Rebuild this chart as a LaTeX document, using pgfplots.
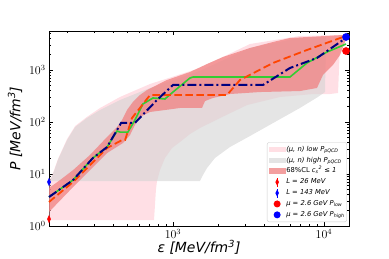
\documentclass[border=0pt]{standalone}
\usepackage{pgfplots}
\pgfplotsset{compat=1.18}
\usepackage{fontspec}
\newfontfamily\dv{DejaVu Sans}
\definecolor{pinkc}{RGB}{255,192,203}
\definecolor{grayc}{RGB}{211,211,211}
\definecolor{bandc}{RGB}{240,128,128}
\definecolor{orangered}{RGB}{255,69,0}
\definecolor{navyc}{RGB}{0,0,128}
\definecolor{limec}{RGB}{50,205,50}
\begin{document}
\begin{tikzpicture}
\useasboundingbox (-49bp,-33bp) rectangle (340bp,226bp);
\begin{axis}[
 scale only axis, width=300bp, height=195bp,
 xmode=log, ymode=log,
 xmin=151, xmax=14650, ymin=1, ymax=5623,
 clip=false,
 axis line style={line width=0.8bp},
 major tick length=4bp, minor tick length=2bp,
 tick style={line width=0.6bp, black},
 tick label style={font=\fontsize{12}{14}\selectfont},
 xlabel={\dv\itshape ε [MeV/fm\textsuperscript{3}]},
 ylabel={\dv\itshape P [MeV/fm\textsuperscript{3}]},
 label style={font=\fontsize{14}{16}\selectfont},
 xlabel style={at={(axis description cs:0.5,-0.108)}, anchor=center},
 ylabel style={at={(axis description cs:-0.113,0.5)}, anchor=center},
 legend style={at={(0.993,0.0205)}, anchor=south east, draw=black!20, rounded corners=2bp, fill=white,
   font=\fontsize{6.8}{8}\dv\itshape, inner xsep=1.5bp, inner ysep=1.5bp, row sep=0bp,
   cells={anchor=west}, nodes={inner sep=0.6bp, text height=6.5bp, text depth=3.2bp}},
]
\addplot[fill=pinkc, fill opacity=0.5, draw=none,
  legend image code/.code={\fill[pinkc, fill opacity=0.5, draw=none, sharp corners] (0bp,-2.8bp) rectangle (17bp,2.8bp);}] coordinates {
(151,1.30) (749,1.30) (760,2.53) (771,4.92) (784,7.33) (820,11.9) (885,20.3) (985,31.6) (1112,41.2) (1296,58.8) (1509,76.7) (2047,119) (3093,212) (5117,303) (8453,345) (10970,345) (12390,361) (12570,1000) (12770,3026) (13400,4710) (6930,4510) (3237,3162) (1509,1093) (705,538) (446,303) (329,186) (269,125) (225,83.8) (199,47.1) (173,19.4) (158,9.15) (151,7.33)} -- cycle;
\addlegendentry{(μ, n) low P\textsubscript{pQCD}}
\addplot[fill=grayc, fill opacity=0.6, draw=none,
  legend image code/.code={\fill[grayc, fill opacity=0.6, draw=none, sharp corners] (0bp,-2.8bp) rectangle (17bp,2.8bp);}] coordinates {
(151,7.33) (1509,7.33) (1580,9.56) (1680,13.0) (1897,20.3) (2383,33.0) (3237,53.8) (4732,100) (6930,186) (9120,303) (10160,377) (10310,4310) (6930,4125) (3237,2650) (1509,957) (705,451) (446,265) (329,170) (269,119) (225,80) (199,45) (173,18.6) (158,8.75)} -- cycle;
\addlegendentry{(μ, n) high P\textsubscript{pQCD}}
\addplot[fill=bandc, fill opacity=0.75, draw=none,
  legend image code/.code={\fill[bandc, fill opacity=0.75, draw=none, sharp corners] (0bp,-2.8bp) rectangle (17bp,2.8bp);}] coordinates {
(151,5.38) (179,7.67) (218,11.9) (282,23.2) (366,51.5) (426,80) (460,109) (496,170) (543,243) (604,330) (673,412) (912,642) (1296,915) (1680,1304) (2142,1778) (3237,2650) (4594,3453) (5954,4125) (13370,4710) (14000,4710) (14000,3776)
(13780,3453) (12770,1942) (11470,1248) (9849,801) (8988,451) (6930,394) (3767,377) (2383,345) (1841,290) (1630,253) (1556,186) (1112,186) (885,170) (705,156) (604,125) (560,88) (519,56) (467,39.5) (366,25.3) (218,5.62) (151,1.86)} -- cycle;
\addlegendentry{\upshape 68\%CL \itshape c\textsubscript{s}\textsuperscript{2} ≤ 1}
\addplot[forget plot, limec, line width=1.6bp] coordinates {
(151,3.61) (218,7.67) (295,20.3) (366,33) (426,67) (446,64) (503,64) (560,109) (632,222) (738,290) (885,277) (1000,377) (1296,702) (1357,733) (5954,733) (7713,1364) (10470,2218) (14000,3162)};
\addplot[forget plot, orangered, line width=1.8bp, dash pattern=on 7.5bp off 3.5bp] coordinates {
(151,2.90) (218,7.02) (366,31.6) (460,45) (482,45) (535,119) (604,186) (705,330) (2278,330) (2778,642) (4594,1364) (7713,2424) (13370,4310) (13900,4400)};
\addplot[forget plot, navyc, line width=2bp, dash pattern=on 9bp off 3bp on 2bp off 3bp] coordinates {
(151,3.61) (218,7.67) (295,20.3) (366,33) (426,70) (446,88) (453,96) (560,96) (784,265) (1000,515) (3944,515) (5954,1093) (8988,1702) (13370,3776) (14000,4310)};
\addplot[only marks, red, mark=diamond*, mark size=3.6bp, mark options={xscale=0.6},
  legend image code/.code={\draw[red, line width=1bp, sharp corners] (8.5bp,-4.5bp)--(8.5bp,4.5bp); \fill[red, draw=none, sharp corners] (8.5bp,3.6bp)--(10.3bp,0bp)--(8.5bp,-3.6bp)--(6.7bp,0bp)--cycle; \path[draw=none] (0bp,0bp) -- (17bp,0bp);}]
  coordinates {(151,1.36)};
\addlegendentry{L = 26 MeV}
\addplot[only marks, blue, mark=diamond*, mark size=3.6bp, mark options={xscale=0.6},
  legend image code/.code={\draw[blue, line width=1bp, sharp corners] (8.5bp,-4.5bp)--(8.5bp,4.5bp); \fill[blue, draw=none, sharp corners] (8.5bp,3.6bp)--(10.3bp,0bp)--(8.5bp,-3.6bp)--(6.7bp,0bp)--cycle; \path[draw=none] (0bp,0bp) -- (17bp,0bp);}]
  coordinates {(151,7.02)};
\addlegendentry{L = 143 MeV}
\addplot[only marks, red, mark=*, mark size=3.6bp,
  legend image code/.code={\fill[red, draw=none] (8.5bp,0bp) circle (3.5bp); \path[draw=none] (0bp,0bp) -- (17bp,0bp);}] coordinates {(14000,2318)};
\addlegendentry{μ = 2.6 GeV P\textsubscript{low}}
\addplot[only marks, blue, mark=*, mark size=3.6bp,
  legend image code/.code={\fill[blue, draw=none] (8.5bp,0bp) circle (3.5bp); \path[draw=none] (0bp,0bp) -- (17bp,0bp);}] coordinates {(14000,4310)};
\addlegendentry{μ = 2.6 GeV P\textsubscript{high}}
\end{axis}
\end{tikzpicture}
\end{document}
